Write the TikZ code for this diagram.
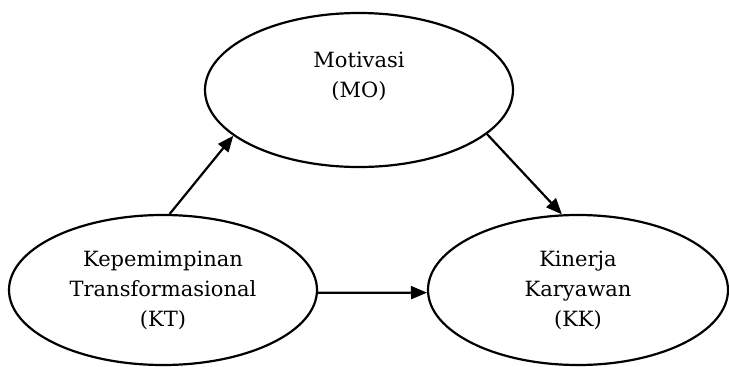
\documentclass[tikz,border=0pt]{standalone}
\usepackage{fontspec}
\setmainfont{DejaVu Serif}
\usetikzlibrary{shapes.geometric,arrows.meta}
\begin{document}
\begin{tikzpicture}[x=1pt,y=-1pt,
  ell/.style={ellipse,draw,line width=2.2pt,inner sep=0pt,align=center,
    font=\fontsize{21}{30}\selectfont},
  arr/.style={line width=2.2pt,-{Triangle[length=16pt,width=13pt]}}]
\useasboundingbox (0,0) rectangle (729,367);
\node[ell,minimum width=308pt,minimum height=154pt] (mo) at (359,90) {Motivasi\\(MO)\\ };
\node[ell,minimum width=308pt,minimum height=150pt] (kt) at (163,290) {Kepemimpinan\\Transformasional\\(KT)};
\node[ell,minimum width=300pt,minimum height=150pt] (kk) at (578,290) {Kinerja\\Karyawan\\(KK)};
\draw[arr] (kt.85) -- (mo.200);
\draw[arr] (mo.-19.5) -- (kk.102);
\draw[arr] (kt.-1.5) -- (kk.181.5);
\end{tikzpicture}
\end{document}
